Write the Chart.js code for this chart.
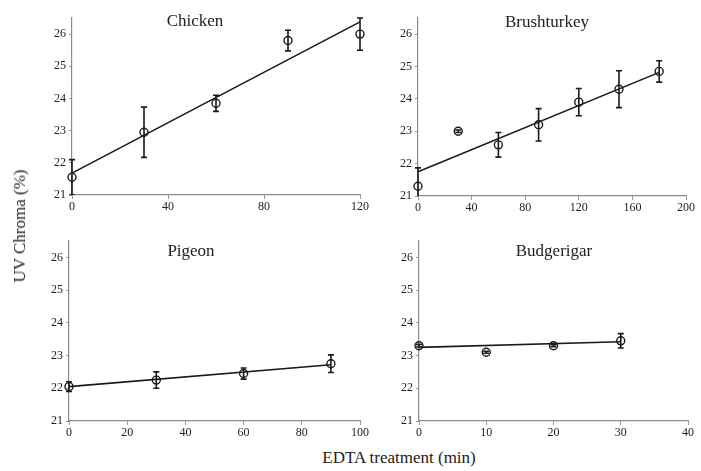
<!DOCTYPE html>
<html>
<head>
<meta charset="utf-8">
<script src="https://cdn.jsdelivr.net/npm/chart.js@4.4.1/dist/chart.umd.min.js"></script>
<style>
  body { margin: 0; background: #fff; }
  #page { position: relative; width: 701px; height: 471px; font-family: "Liberation Serif", serif; color: #222; }
  .panel { position: absolute; }
  #yTitle { position: absolute; left: 20px; top: 226px; transform: translate(-50%, -50%) rotate(-90deg); font-size: 17px; white-space: nowrap; }
  #xTitle { position: absolute; left: 399px; top: 458px; transform: translate(-50%, -50%); font-size: 17px; white-space: nowrap; }
</style>
</head>
<body>
<div id="page">
  <div class="panel" style="left:20px;top:5px;width:350px;height:215px"><canvas id="chicken"></canvas></div>
  <div class="panel" style="left:366px;top:5px;width:330px;height:216px"><canvas id="brushturkey"></canvas></div>
  <div class="panel" style="left:17px;top:228px;width:353px;height:218px"><canvas id="pigeon"></canvas></div>
  <div class="panel" style="left:367px;top:228px;width:331px;height:218px"><canvas id="budgerigar"></canvas></div>
  <div id="yTitle">UV Chroma (%)</div>
  <div id="xTitle">EDTA treatment (min)</div>
</div>
<script>
// valores
const yTicks = [21, 22, 23, 24, 25, 26];

const chickenTime = [0, 30, 60, 90, 120];
const chickenChroma = [21.55, 22.95, 23.85, 25.8, 26.0];
const chickenError = [0.55, 0.78, 0.25, 0.32, 0.5];
const chickenFitTime = [0, 120];
const chickenFit = [21.68, 26.38];

const turkeyTime = [0, 30, 60, 90, 120, 150, 180];
const turkeyChroma = [21.3, 23.0, 22.58, 23.2, 23.9, 24.3, 24.85];
const turkeyError = [0.57, 0.04, 0.38, 0.5, 0.42, 0.57, 0.33];
const turkeyFitTime = [0, 180];
const turkeyFit = [21.75, 24.82];

const pigeonTime = [0, 30, 60, 90];
const pigeonChroma = [22.05, 22.25, 22.45, 22.75];
const pigeonError = [0.15, 0.25, 0.17, 0.27];
const pigeonFitTime = [0, 90];
const pigeonFit = [22.05, 22.72];

const budgieTime = [0, 10, 20, 30];
const budgieChroma = [23.3, 23.1, 23.3, 23.45];
const budgieError = [0.04, 0.03, 0.03, 0.22];
const budgieFitTime = [0, 30];
const budgieFit = [23.25, 23.42];

const FONT = '"Liberation Serif", serif';

// Barras de error dibujadas con las escalas del gráfico
const errorBarPlugin = {
  id: 'errorBars',
  afterDatasetsDraw(chart) {
    const { ctx, chartArea, scales } = chart;
    chart.data.datasets.forEach((ds) => {
      if (!ds.errors) return;
      ctx.save();
      ctx.beginPath();
      ctx.rect(chartArea.left - 10, chartArea.top - 6, chartArea.right - chartArea.left + 20, chartArea.bottom - chartArea.top + 6);
      ctx.clip();
      ctx.strokeStyle = '#1a1a1a';
      ctx.lineWidth = 1.6;
      ds.data.forEach((p, j) => {
        const e = ds.errors[j];
        const px = scales.x.getPixelForValue(p.x);
        const top = scales.y.getPixelForValue(p.y + e);
        const bot = scales.y.getPixelForValue(p.y - e);
        ctx.beginPath();
        ctx.moveTo(px, top); ctx.lineTo(px, bot);
        ctx.moveTo(px - 3, top); ctx.lineTo(px + 3, top);
        ctx.moveTo(px - 3, bot); ctx.lineTo(px + 3, bot);
        ctx.stroke();
      });
      ctx.restore();
    });
  }
};

// Título de cada panel dentro del área del gráfico
const panelTitlePlugin = {
  id: 'panelTitle',
  afterDraw(chart, args, opts) {
    const { ctx, chartArea } = chart;
    ctx.save();
    ctx.font = '17px ' + FONT;
    ctx.fillStyle = '#222';
    ctx.textAlign = 'center';
    ctx.textBaseline = 'middle';
    ctx.fillText(opts.text, chartArea.left + opts.dx, chartArea.top + opts.dy);
    ctx.restore();
  }
};

function makePanel(id, title, times, values, errors, fitTimes, fitValues, xMax, xStep, titleDx, titleDy) {
  const points = times.map((t, i) => ({ x: t, y: values[i] }));
  const fit = fitTimes.map((t, i) => ({ x: t, y: fitValues[i] }));
  new Chart(document.getElementById(id), {
    type: 'scatter',
    data: {
      datasets: [
        {
          type: 'line',
          data: fit,
          borderColor: '#1a1a1a',
          borderWidth: 1.6,
          pointRadius: 0,
          fill: false,
          clip: false
        },
        {
          data: points,
          errors: errors,
          borderColor: '#1a1a1a',
          backgroundColor: 'rgba(255,255,255,0)',
          pointRadius: 4,
          pointBorderWidth: 1.4,
          clip: false
        }
      ]
    },
    options: {
      responsive: true,
      maintainAspectRatio: false,
      animation: false,
      layout: { padding: { top: 13, right: 10, left: 0, bottom: 0 } },
      plugins: {
        legend: { display: false },
        tooltip: { enabled: false },
        panelTitle: { text: title, dx: titleDx, dy: titleDy }
      },
      scales: {
        x: {
          type: 'linear',
          min: 0,
          max: xMax,
          afterFit: (s) => { s.height = 25; },
          border: { color: '#8a8a8a', width: 1.2 },
          grid: { drawOnChartArea: false, tickLength: 4, color: '#9a9a9a' },
          ticks: { stepSize: xStep, padding: 1, color: '#222', font: { family: FONT, size: 12 } }
        },
        y: {
          min: 21,
          max: 26.5,
          afterFit: (s) => { s.width = 52; },
          afterBuildTicks: (s) => { s.ticks = yTicks.map(v => ({ value: v })); },
          border: { color: '#8a8a8a', width: 1.2 },
          grid: { drawOnChartArea: false, tickLength: 3, color: '#9a9a9a' },
          ticks: { padding: 3, color: '#222', font: { family: FONT, size: 12 } }
        }
      }
    },
    plugins: [errorBarPlugin, panelTitlePlugin]
  });
}

document.addEventListener('DOMContentLoaded', () => {
  makePanel('chicken', 'Chicken', chickenTime, chickenChroma, chickenError, chickenFitTime, chickenFit, 120, 40, 123, 4);
  makePanel('brushturkey', 'Brushturkey', turkeyTime, turkeyChroma, turkeyError, turkeyFitTime, turkeyFit, 200, 40, 129, 5);
  makePanel('pigeon', 'Pigeon', pigeonTime, pigeonChroma, pigeonError, pigeonFitTime, pigeonFit, 100, 20, 122, 11);
  makePanel('budgerigar', 'Budgerigar', budgieTime, budgieChroma, budgieError, budgieFitTime, budgieFit, 40, 10, 135, 11);
});
</script>
</body>
</html>
